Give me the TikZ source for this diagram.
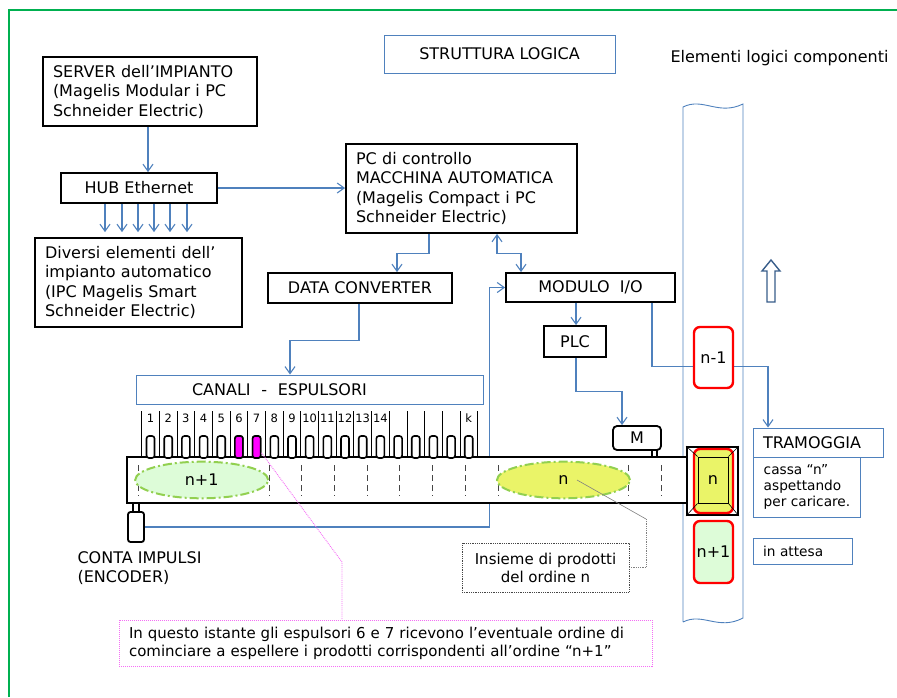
\documentclass[tikz,border=0pt]{standalone}
\usepackage{fontspec}
\setmainfont{DejaVu Sans}
\usetikzlibrary{arrows.meta,calc,shapes.geometric,backgrounds}
\definecolor{lblue}{RGB}{79,129,189}
\definecolor{fgreen}{RGB}{0,176,80}
\definecolor{elgreen}{RGB}{146,208,80}
\definecolor{palegreen}{RGB}{221,252,216}
\definecolor{yel}{RGB}{234,244,104}
\definecolor{magfill}{RGB}{255,0,255}
\definecolor{magln}{RGB}{245,110,245}
\definecolor{dblue}{RGB}{56,93,138}
\definecolor{dgray}{RGB}{70,70,70}
\newcommand\fmain{\fontsize{16}{19.5}\selectfont}
\newcommand\fsmall{\fontsize{13.7}{16}\selectfont}
\newcommand\fmid{\fontsize{15}{18}\selectfont}
\newcommand\ftiny{\fontsize{11.5}{13}\selectfont}
\begin{document}
\begin{tikzpicture}[x=1pt,y=-1pt,
  blk/.style={draw=black, line width=1.8pt, fill=white, inner sep=0pt, font=\fmain},
  bbox/.style={draw=lblue, line width=1pt, fill=white, inner sep=0pt, font=\fmain},
  conn/.style={draw=lblue, line width=1.1pt, -{Straight Barb[length=7pt,width=10pt]}},
  conn2/.style={draw=lblue, line width=1.1pt, {Straight Barb[length=7pt,width=10pt]}-{Straight Barb[length=7pt,width=10pt]}},
  redbox/.style={draw=red, line width=2.4pt, rounded corners=6pt, inner sep=0pt, minimum width=39pt, font=\fmain},
  ejector/.style={draw=black, line width=1.6pt, rounded corners=2.5pt, minimum width=8pt, minimum height=22pt, inner sep=0pt, fill=white},
  ell/.style={ellipse, draw=elgreen, line width=2pt, dash pattern=on 9pt off 3pt on 2pt off 3pt, minimum width=133pt, minimum height=36.6pt, inner sep=0pt, font=\fmain},
  thinblk/.style={draw=black, line width=1.5pt, fill=white, inner sep=0pt}
]
\useasboundingbox (0,0) rectangle (897,697);
% frame
\draw[fgreen, line width=2pt] (9,697) -- (9,10) -- (897,10);

% column of logical elements
\draw[lblue, line width=0.9pt] (683,622) -- (683,107) .. controls (703,97) and (718,116) .. (743,104) -- (743,618) .. controls (718,631) and (703,612) .. (683,622);

% upper boxes
\node[bbox, minimum width=231pt, minimum height=38pt] (strutt) at (499.5,54) {STRUTTURA LOGICA};
\node[font=\fmain] (elem) at (779.5,58) {Elementi logici componenti};

\node[blk, align=left, text width=194pt, inner xsep=10pt, minimum height=69pt] (server) at (150,91.5) {SERVER dell’IMPIANTO\\(Magelis Modular i PC\\Schneider Electric)};
\node[blk, minimum width=156pt, minimum height=30pt] (hub) at (139,188) {HUB Ethernet};
\node[blk, align=left, text width=187pt, inner xsep=10pt, minimum height=89pt] (diversi) at (138.5,282.5) {Diversi elementi dell’\\impianto automatico\\(IPC Magelis Smart\\Schneider Electric)};
\node[blk, align=left, text width=211pt, inner xsep=10pt, minimum height=89pt] (pc) at (461.5,188.5) {PC di controllo\\MACCHINA AUTOMATICA\\(Magelis Compact i PC\\Schneider Electric)};
\node[blk, minimum width=184pt, minimum height=30pt] (dc) at (360,288) {DATA CONVERTER};
\node[blk, minimum width=169pt, minimum height=29pt] (modulo) at (590.5,287.5) {MODULO\ \ I/O};
\node[blk, minimum width=62pt, minimum height=31pt] (plc) at (575,341.5) {PLC};
\node[blk, rounded corners=4pt, minimum width=48pt, minimum height=24pt] (m) at (637,438) {M};
\node[thinblk, minimum width=5pt, minimum height=8pt] (mstub) at (654.5,454) {};

\node[bbox, align=left, text width=327pt, inner xsep=10pt, minimum height=29pt] (canali) at (309.5,389.5) {\hspace*{46pt}CANALI\ \ -\ \ ESPULSORI};

% up arrow
\draw[dblue, line width=1.4pt, fill=white] (767,302) -- (767,271) -- (762,271) -- (771,260) -- (780,271) -- (775,271) -- (775,302) -- cycle;

% n-1
\node[redbox, fill=white, minimum height=61pt] (nm1) at (713.5,357.5) {n-1};

% tramoggia
\node[bbox, font=\fsmall, align=left, inner xsep=9pt, minimum width=107pt, minimum height=60pt, anchor=west] (cassa) at (753,487) {cassa “n”\\aspettando\\per caricare.};
\node[bbox, align=left, text width=110pt, inner xsep=10pt, minimum height=29pt] (tram) at (818,442.5) {TRAMOGGIA};
\node[bbox, font=\fsmall, align=left, text width=79pt, inner xsep=10pt, minimum height=26pt] (attesa) at (802.5,551) {in attesa};

% ejector separators and numbers
\foreach \i in {0,...,19}
  \draw[black, line width=0.8pt] ({141.7+17.68*\i},411) -- ({141.7+17.68*\i},457);
\foreach \j in {1,...,14}
  \node[font=\ftiny, fill=white, inner sep=0.5pt] (num\j) at ({141.7+17.68*(\j-0.5)},418) {\j};
\node[font=\ftiny, fill=white, inner sep=0.5pt] (numk) at ({141.7+17.68*18.5},418) {k};

% conveyor
\node[draw=black, line width=2pt, fill=white, minimum width=565pt, minimum height=46pt, inner sep=0pt] (conv) at (409.5,480) {};
\foreach \k in {0,...,16}
  \draw[dgray, dash pattern=on 6pt off 4pt, line width=0.9pt] ({138.3+32.7*\k},465) -- ({138.3+32.7*\k},496);
\node[ell, fill=palegreen] (elln1) at (201.7,480) {n+1};
\node[ell, fill=yel] (ellN) at (563.5,480) {n};

% ejectors
\foreach \j in {1,...,19}
  \node[ejector] (ej\j) at ({141.7+17.68*(\j-0.5)},447) {};
\node[ejector, fill=magfill] at (ej6) {};
\node[ejector, fill=magfill] at (ej7) {};

% hopper
\node[draw=black, line width=2pt, fill=white, minimum width=51pt, minimum height=68pt, inner sep=0pt] (hop) at (712.5,481) {};
\node[draw=red, line width=2.4pt, fill=yel, rounded corners=6pt, minimum width=39pt, minimum height=64pt, inner sep=0pt] (hopred) at (713.5,481) {};
\node[draw=black, line width=0.8pt, minimum width=30pt, minimum height=46pt, inner sep=0pt, font=\fmain] (hopin) at (713,480) {n};
\foreach \c in {north west, north east, south west, south east}
  \draw[black, line width=0.6pt] (hop.\c) -- (hopin.\c);

% n+1 waiting
\node[redbox, fill=palegreen, minimum height=62pt] (np1) at (713.5,552) {n+1};

% encoder
\node[thinblk, minimum width=6pt, minimum height=9pt] (encstem) at (136,507.5) {};
\node[draw=black, line width=1.8pt, rounded corners=2.5pt, fill=white, minimum width=16pt, minimum height=30pt, inner sep=0pt] (enc) at (136,527) {};
\node[font=\fmain, align=left, anchor=west] (enclabel) at (74,568) {CONTA IMPULSI\\(ENCODER)};

% callout boxes
\node[draw=dgray, densely dotted, line width=0.8pt, fill=white, inner sep=0pt, minimum width=167pt, minimum height=49pt, font=\fmid, align=center] (insieme) at (545.5,567.5) {Insieme di prodotti\\del ordine n};
\node[draw=magln, densely dotted, line width=1pt, fill=white, inner sep=0pt, inner xsep=10pt, text width=513pt, minimum height=46pt, font=\fmid, align=left] (magbox) at (385.5,643) {In questo istante gli espulsori 6 e 7 ricevono l’eventuale ordine di\\cominciare a espellere i prodotti corrispondenti all’ordine “n+1”};

\coordinate (mk) at (342,562);
\draw[magln, densely dotted, line width=0.9pt] ($(ej7.south east)+(0,-6)$) -- (mk) -- (mk |- magbox.north);
\coordinate (gk) at (646,519);
\draw[gray, line width=0.6pt] ($(ellN.center)+(13.5,0)$) -- (gk);
\draw[gray, densely dotted, line width=0.8pt] (gk) |- (insieme.east);

% connectors
\begin{scope}[on background layer]
\draw[conn] ($(server.south)+(-2,0)$) -- ($(hub.north)+(9,0)$);
\foreach \d in {-34,-17,-1,15,31,48}
  \draw[conn] ($(hub.south)+(\d,0)$) -- ($(hub.south |- diversi.north)+(\d,-5)$);
\draw[conn] (hub.east) -- (hub.east -| pc.west);
\draw[conn] ($(pc.south)+(-32.5,0)$) -- ++(0,20) -| ($(dc.north)+(37,0)$);
\draw[conn2] ($(pc.south)+(35.5,0)$) -- ++(0,20) -| ($(modulo.north)+(-69.5,0)$);
\draw[conn] ($(dc.south)+(-1,0)$) -- ++(0,37) -| ($(canali.north)+(-19.5,0)$);
\draw[conn] (enc.east) -| ($(modulo.west)+(-16,0)$) -- (modulo.west);
\draw[conn] ($(modulo.south)+(-14.5,0)$) -- ($(plc.north)+(1,0)$);
\draw[conn] ($(plc.south)+(1,0)$) -- ++(0,34) -| ($(m.north)+(-15,0)$);
\draw[conn] ($(modulo.south)+(61.5,0)$) -- ++(0,64) -| ($(tram.north)+(-50,0)$);
\end{scope}
\end{tikzpicture}
\end{document}
